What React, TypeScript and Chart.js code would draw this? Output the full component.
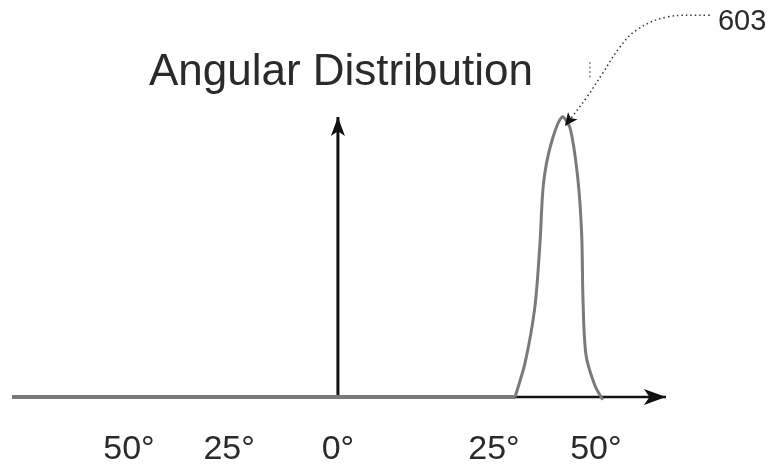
import React, { useEffect, useRef } from "react";
import { Chart, registerables } from "chart.js";

Chart.register(...registerables);

// ---- data (axis units: horizontal schematic angle units, vertical relative intensity) ----
const titleText = "Angular Distribution";
const tickPositions = [-48.6, -25.3, 0, 36.3, 60];
const tickLabels = ["50°", "25°", "0°", "25°", "50°"];

const axisX = [-75.8, 76.3];
const axisY = [0, 0];

const deltaX = [0, 0];
const deltaY = [0, 1.0];

const baselineX = [-75.8, 41.2];
const baselineY = [0, 0];

const bumpX = [41.2, 43.5, 45.8, 47.0, 47.8, 49.5, 52.1, 54.0, 55.8, 56.7, 57.0, 57.7, 59.8, 61.6];
const bumpY = [0, 0.12, 0.32, 0.55, 0.76, 0.9, 1.0, 0.96, 0.78, 0.58, 0.35, 0.15, 0.04, -0.01];

const leaderX = [86.5, 76.5, 69.5, 65.6, 61.6, 57.9, 52.8];
const leaderY = [1.364, 1.357, 1.311, 1.25, 1.157, 1.071, 0.968];
const leaderLabel = "603";
const leaderLabelPos = [88.4, 1.339];

const markX = [58.6, 58.6];
const markY = [1.196, 1.139];

const toPts = (xs: number[], ys: number[]) => xs.map((x, i) => ({ x, y: ys[i] }));

const arrowPlugin = {
  id: "arrowHeads",
  afterDatasetsDraw(chart: any) {
    const ctx = chart.ctx;
    chart.data.datasets.forEach((ds: any, i: number) => {
      if (!ds.arrowHead) return;
      const meta = chart.getDatasetMeta(i);
      const pts = meta.data;
      if (pts.length < 2) return;
      const a = pts[pts.length - 2];
      const b = pts[pts.length - 1];
      const ang = Math.atan2(b.y - a.y, b.x - a.x);
      const { length, width, color } = ds.arrowHead;
      ctx.save();
      ctx.translate(b.x, b.y);
      ctx.rotate(ang);
      ctx.beginPath();
      ctx.moveTo(0, 0);
      ctx.lineTo(-length, -width);
      ctx.lineTo(-length * 0.75, 0);
      ctx.lineTo(-length, width);
      ctx.closePath();
      ctx.fillStyle = color;
      ctx.fill();
      ctx.restore();
    });
  },
};

const textPlugin = {
  id: "texts",
  afterDraw(chart: any) {
    const ctx = chart.ctx;
    const xs = chart.scales.x;
    const ys = chart.scales.y;
    ctx.save();
    ctx.fillStyle = "#2a2a2a";
    ctx.font = "44px 'Liberation Sans', Arial, sans-serif";
    ctx.textAlign = "center";
    ctx.textBaseline = "alphabetic";
    ctx.fillText(titleText, xs.getPixelForValue(0) + 3, 85);
    ctx.font = "29px 'Liberation Sans', Arial, sans-serif";
    ctx.textAlign = "left";
    ctx.textBaseline = "middle";
    ctx.fillText(leaderLabel, xs.getPixelForValue(leaderLabelPos[0]), ys.getPixelForValue(leaderLabelPos[1]));
    ctx.restore();
  },
};

export default function App() {
  const ref = useRef<HTMLCanvasElement | null>(null);
  useEffect(() => {
    if (!ref.current) return;
    const chart = new Chart(ref.current, {
      type: "line",
      data: {
        datasets: [
          {
            label: "distribution baseline",
            data: toPts(baselineX, baselineY),
            borderColor: "#7a7a7a",
            borderWidth: 4,
            pointRadius: 0,
            order: 0,
          } as any,
          {
            label: "distribution",
            data: toPts(bumpX, bumpY),
            borderColor: "#7a7a7a",
            borderWidth: 3,
            pointRadius: 0,
            tension: 0.3,
            order: 0,
          } as any,
          {
            label: "axis",
            data: toPts(axisX, axisY),
            borderColor: "#111",
            borderWidth: 2.5,
            pointRadius: 0,
            order: 2,
            arrowHead: { length: 22, width: 8, color: "#111" },
          } as any,
          {
            label: "delta",
            data: toPts(deltaX, deltaY),
            borderColor: "#111",
            borderWidth: 3,
            pointRadius: 0,
            order: 1,
            arrowHead: { length: 19, width: 7, color: "#111" },
          } as any,
          {
            label: "leader",
            data: toPts(leaderX, leaderY),
            borderColor: "#333",
            borderWidth: 1.5,
            borderDash: [1.5, 3],
            pointRadius: 0,
            tension: 0.4,
            order: 0,
            arrowHead: { length: 13, width: 6, color: "#111" },
          } as any,
          {
            label: "mark",
            data: toPts(markX, markY),
            borderColor: "#666",
            borderWidth: 1.5,
            borderDash: [1.5, 3],
            pointRadius: 0,
            order: 0,
          } as any,
        ],
      },
      options: {
        animation: false,
        responsive: false,
        devicePixelRatio: 1,
        layout: { padding: 0 },
        plugins: { legend: { display: false }, tooltip: { enabled: false }, title: { display: false } },
        scales: {
          x: {
            type: "linear",
            min: -78.6,
            max: 100.5,
            grid: { display: false, drawTicks: false },
            border: { display: false },
            afterBuildTicks: (scale: any) => {
              scale.ticks = tickPositions.map((v) => ({ value: v }));
            },
            ticks: {
              padding: 2,
              color: "#2a2a2a",
              font: { family: "'Liberation Sans', Arial, sans-serif", size: 34 },
              maxRotation: 0,
              autoSkip: false,
              callback: (v: any) => {
                const idx = tickPositions.indexOf(Number(v));
                return idx >= 0 ? tickLabels[idx] : "";
              },
            },
          },
          y: {
            type: "linear",
            display: false,
            min: -0.108,
            max: 1.418,
          },
        },
      },
      plugins: [arrowPlugin, textPlugin],
    });
    return () => chart.destroy();
  }, []);
  return (
    <div style={{ position: "absolute", left: 0, top: 0, width: 770, height: 472, background: "#fff" }}>
      <canvas ref={ref} width={770} height={472} style={{ display: "block" }} />
    </div>
  );
}
